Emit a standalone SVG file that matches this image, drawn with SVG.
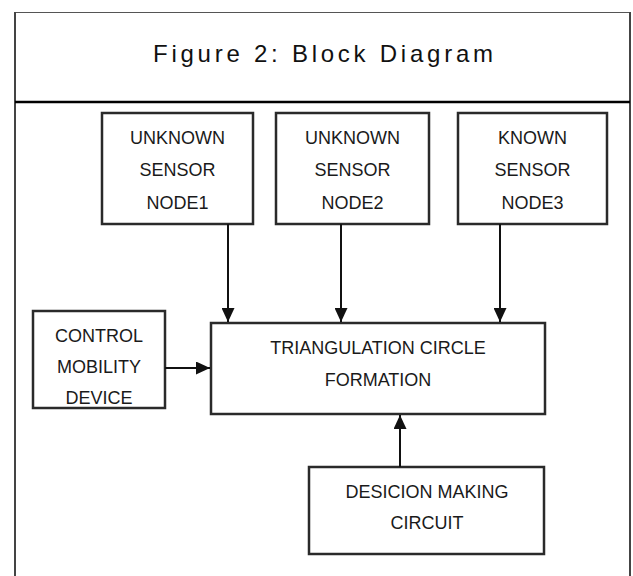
<svg xmlns="http://www.w3.org/2000/svg" width="633" height="576" viewBox="0 0 633 576">
<style>
.box{fill:#fff;stroke:#2a2a2a;stroke-width:2.5}
.lbl{font-family:"Liberation Sans",Arial,sans-serif;font-size:18px;fill:#1a1a1a;text-anchor:middle;dominant-baseline:central}
.ttl{font-family:"Liberation Sans",Arial,sans-serif;font-size:24px;fill:#111;text-anchor:middle}
.con{stroke:#111;stroke-width:2;fill:none}
</style>
<defs>
<marker id="ah" markerWidth="14" markerHeight="13" refX="14" refY="6.5" orient="auto" markerUnits="userSpaceOnUse" viewBox="0 0 14 13">
<path d="M0,0 L14,6.5 L0,13 Z" fill="#111"/>
</marker>
</defs>
<rect x="0" y="0" width="633" height="576" fill="#fff"/>
<g id="frame">
<line x1="15" y1="12.5" x2="630" y2="12.5" stroke="#555" stroke-width="1.2"/>
<line x1="15" y1="12" x2="15" y2="576" stroke="#444" stroke-width="2"/>
<line x1="630" y1="12" x2="630" y2="576" stroke="#444" stroke-width="2"/>
<line x1="15" y1="102" x2="630" y2="102" stroke="#000" stroke-width="2.5"/>
<text class="ttl" x="323" y="62" textLength="340" lengthAdjust="spacing">Figure 2: Block Diagram</text>
</g>
<g id="node1">
<rect class="box" x="102" y="113" width="151" height="111"/>
<text class="lbl" x="177.5" y="138">UNKNOWN</text>
<text class="lbl" x="177.5" y="170">SENSOR</text>
<text class="lbl" x="177.5" y="203">NODE1</text>
</g>
<g id="node2">
<rect class="box" x="276" y="113" width="153" height="111"/>
<text class="lbl" x="352.5" y="138">UNKNOWN</text>
<text class="lbl" x="352.5" y="170">SENSOR</text>
<text class="lbl" x="352.5" y="203">NODE2</text>
</g>
<g id="node3">
<rect class="box" x="458" y="113" width="149" height="111"/>
<text class="lbl" x="532.5" y="138">KNOWN</text>
<text class="lbl" x="532.5" y="170">SENSOR</text>
<text class="lbl" x="532.5" y="203">NODE3</text>
</g>
<g id="control">
<rect class="box" x="33" y="311" width="132" height="97"/>
<text class="lbl" x="99" y="336">CONTROL</text>
<text class="lbl" x="99" y="367">MOBILITY</text>
<text class="lbl" x="99" y="398">DEVICE</text>
</g>
<g id="triangulation">
<rect class="box" x="211" y="323" width="334" height="91"/>
<text class="lbl" x="378" y="348">TRIANGULATION CIRCLE</text>
<text class="lbl" x="378" y="380">FORMATION</text>
</g>
<g id="decision">
<rect class="box" x="309" y="467" width="235" height="87"/>
<text class="lbl" x="427" y="492">DESICION MAKING</text>
<text class="lbl" x="427" y="523">CIRCUIT</text>
</g>
<g id="connectors">
<line class="con" x1="228" y1="224" x2="228" y2="322" marker-end="url(#ah)"/>
<line class="con" x1="341" y1="224" x2="341" y2="322" marker-end="url(#ah)"/>
<line class="con" x1="500" y1="224" x2="500" y2="322" marker-end="url(#ah)"/>
<line class="con" x1="165" y1="368" x2="210" y2="368" marker-end="url(#ah)"/>
<line class="con" x1="400" y1="467" x2="400" y2="415" marker-end="url(#ah)"/>
</g>
</svg>
